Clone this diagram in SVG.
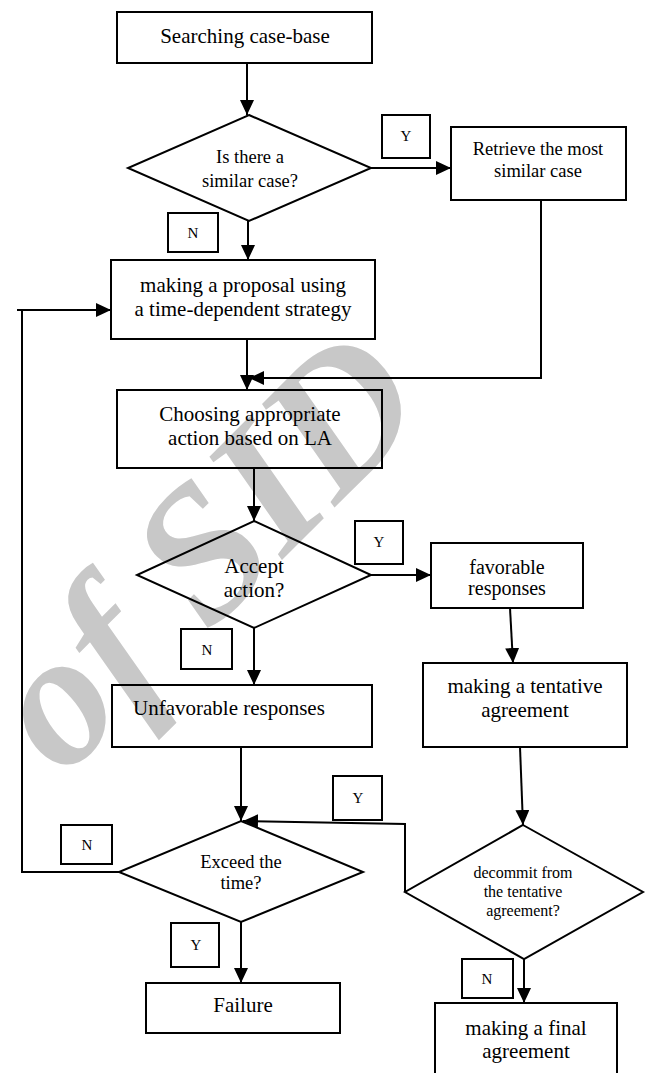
<svg xmlns="http://www.w3.org/2000/svg" width="648" height="1073" viewBox="0 0 648 1073">
<defs>
<marker id="arr" markerUnits="userSpaceOnUse" markerWidth="15" markerHeight="14" refX="15" refY="7" orient="auto">
<path d="M0,0 L15,7 L0,14 z" fill="#000"/>
</marker>
<style>
.box{fill:none;stroke:#000;stroke-width:2}
.lbl{fill:none;stroke:#000;stroke-width:2}
.t{font-family:"Liberation Serif","Times New Roman",serif;fill:#000;text-anchor:middle}
.big{font-size:21px}
.mid{font-size:18.5px}
.sm{font-size:16px}
.yn{font-size:15px}
.c{fill:none;stroke:#000;stroke-width:2}
.wm{font-family:"Liberation Serif","Times New Roman",serif;font-style:italic;font-weight:bold;font-size:190px;fill:#c8c8c8}
</style>
</defs>
<rect width="648" height="1073" fill="#fff"/>
<text class="wm" transform="translate(63,779) rotate(-45)">of SID</text>

<g id="connectors">
<path class="c" d="M247,63 V115" marker-end="url(#arr)"/>
<path class="c" d="M371,168 H451" marker-end="url(#arr)"/>
<path class="c" d="M248,221 V260" marker-end="url(#arr)"/>
<path class="c" d="M247,339 V390" marker-end="url(#arr)"/>
<path class="c" d="M541,200 V378 H249" marker-end="url(#arr)"/>
<path class="c" d="M254,468 V521" marker-end="url(#arr)"/>
<path class="c" d="M371,575 H431" marker-end="url(#arr)"/>
<path class="c" d="M254,628 V685" marker-end="url(#arr)"/>
<path class="c" d="M510,608 L513,663" marker-end="url(#arr)"/>
<path class="c" d="M241,747 V821" marker-end="url(#arr)"/>
<path class="c" d="M520,747 L523,825" marker-end="url(#arr)"/>
<path class="c" d="M405,892 V824 L243,821" marker-end="url(#arr)"/>
<path class="c" d="M119,872 H22 V310"/>
<path class="c" d="M17,310 H111" marker-end="url(#arr)"/>
<path class="c" d="M241,922 V983" marker-end="url(#arr)"/>
<path class="c" d="M524,959 V1003" marker-end="url(#arr)"/>
</g>

<g id="searching">
<rect class="box" x="117" y="12" width="255" height="51"/>
<text class="t big" x="245" y="43">Searching case-base</text>
</g>
<g id="similar-decision">
<polygon class="box" points="249,115 371,168 249,221 128,168"/>
<text class="t mid" x="250" y="163">Is there a</text>
<text class="t mid" x="250" y="187">similar case?</text>
</g>
<g id="label-y1">
<rect class="lbl" x="382" y="115" width="48" height="43"/>
<text class="t yn" x="406" y="141">Y</text>
</g>
<g id="retrieve">
<rect class="box" x="451" y="127" width="175" height="73"/>
<text class="t mid" x="538" y="155">Retrieve the most</text>
<text class="t mid" x="538" y="177">similar  case</text>
</g>
<g id="label-n1">
<rect class="lbl" x="168" y="213" width="50" height="39"/>
<text class="t yn" x="193" y="238">N</text>
</g>
<g id="proposal">
<rect class="box" x="111" y="260" width="264" height="79"/>
<text class="t big" x="243" y="292">making a proposal using</text>
<text class="t big" x="243" y="316">a time-dependent strategy</text>
</g>
<g id="choosing">
<rect class="box" x="117" y="390" width="265" height="78"/>
<text class="t big" x="250" y="421">Choosing appropriate</text>
<text class="t big" x="250" y="445">action based on LA</text>
</g>
<g id="accept-decision">
<polygon class="box" points="254,521 371,575 254,628 137,575"/>
<text class="t big" x="254" y="573">Accept</text>
<text class="t big" x="254" y="597">action?</text>
</g>
<g id="label-y2">
<rect class="lbl" x="355" y="521" width="48" height="43"/>
<text class="t yn" x="379" y="547">Y</text>
</g>
<g id="favorable">
<rect class="box" x="431" y="543" width="152" height="65"/>
<text class="t" style="font-size:20px" x="507" y="574">favorable</text>
<text class="t" style="font-size:20px" x="507" y="595">responses</text>
</g>
<g id="label-n2">
<rect class="lbl" x="181" y="629" width="51" height="40"/>
<text class="t yn" x="207" y="655">N</text>
</g>
<g id="unfavorable">
<rect class="box" x="112" y="685" width="260" height="62"/>
<text class="t big" style="text-anchor:start" x="133" y="715">Unfavorable responses</text>
</g>
<g id="tentative">
<rect class="box" x="423" y="663" width="204" height="84"/>
<text class="t big" x="525" y="693">making a tentative</text>
<text class="t big" x="525" y="717">agreement</text>
</g>
<g id="label-y3">
<rect class="lbl" x="333" y="776" width="49" height="44"/>
<text class="t yn" x="358" y="803">Y</text>
</g>
<g id="label-n3">
<rect class="lbl" x="61" y="825" width="51" height="39"/>
<text class="t yn" x="87" y="850">N</text>
</g>
<g id="exceed-decision">
<polygon class="box" points="241,821 363,872 241,922 119,872"/>
<text class="t mid" x="241" y="868">Exceed the</text>
<text class="t mid" x="241" y="889">time?</text>
</g>
<g id="decommit-decision">
<polygon class="box" points="523,825 643,892 524,959 405,892"/>
<text class="t sm" x="523" y="878">decommit from</text>
<text class="t sm" x="523" y="897">the tentative</text>
<text class="t sm" x="523" y="916">agreement?</text>
</g>
<g id="label-y4">
<rect class="lbl" x="171" y="923" width="48" height="44"/>
<text class="t yn" x="196" y="950">Y</text>
</g>
<g id="label-n4">
<rect class="lbl" x="462" y="959" width="51" height="39"/>
<text class="t yn" x="487" y="984">N</text>
</g>
<g id="failure">
<rect class="box" x="146" y="983" width="194" height="50"/>
<text class="t big" x="243" y="1012">Failure</text>
</g>
<g id="final">
<rect class="box" x="435" y="1003" width="182" height="75"/>
<text class="t big" x="526" y="1035">making a final</text>
<text class="t big" x="526" y="1058">agreement</text>
</g>
</svg>
